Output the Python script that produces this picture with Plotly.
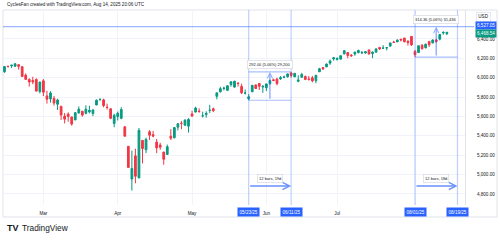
import plotly.graph_objects as go
import pandas as pd

HOLIDAYS = ["2025-02-17", "2025-04-18", "2025-05-26", "2025-06-19", "2025-07-04"]
DATES = pd.bdate_range("2025-02-13", "2025-08-14", freq="C", holidays=HOLIDAYS).strftime("%Y-%m-%d").tolist()

OPEN = [6060.6, 6115.5, 6121.6, 6117.8, 6134.5, 6114.1, 6026.7, 5982.7, 5970.9, 5981.9, 5856.7,
        5968.3, 5811.9, 5781.4, 5785.9, 5726.0, 5705.4, 5603.7, 5624.8, 5594.5, 5563.9, 5635.6,
        5654.5, 5632.4, 5646.9, 5630.7, 5718.1, 5775.9, 5771.7, 5695.6, 5679.1, 5527.9,
        5597.5, 5580.8, 5492.7, 5292.1, 4953.8, 5193.6, 4965.3, 5353.2, 5255.6, 5441.9, 5412.0,
        5335.8, 5305.5, 5232.9, 5207.7, 5395.9, 5381.4, 5489.7, 5529.2, 5508.9, 5499.4,
        5625.1, 5645.0, 5655.3, 5606.6, 5619.0, 5663.4, 5679.8, 5807.6, 5854.4, 5887.9, 5869.5,
        5929.1, 5902.9, 5944.7, 5910.5, 5841.3, 5781.9, 5854.1, 5925.5, 5939.9, 5903.7,
        5896.7, 5938.6, 5978.9, 5985.7, 5987.1, 6004.6, 6009.9, 6049.4, 6009.9, 5963.0, 6004.0,
        6012.2, 5987.9, 5999.7, 5969.7, 6061.2, 6104.2, 6112.1, 6150.7, 6193.4,
        6187.3, 6191.6, 6246.5, 6259.8, 6233.0, 6245.0, 6259.8, 6256.0, 6255.0, 6286.6, 6249.4,
        6263.3, 6313.1, 6304.7, 6306.6, 6326.9, 6368.6, 6370.0, 6397.7, 6409.3, 6374.3, 6427.0,
        6271.7, 6260.0, 6336.2, 6309.3, 6374.0, 6359.0, 6389.7, 6397.3, 6460.6, 6453.4]
HIGH = [6116.9, 6127.5, 6129.6, 6147.4, 6134.5, 6114.8, 6043.7, 5992.7, 6009.8, 5993.7, 5959.4,
        5986.1, 5865.1, 5860.6, 5812.1, 5783.0, 5705.4, 5636.3, 5642.2, 5597.8, 5645.3, 5703.5,
        5654.5, 5715.3, 5711.2, 5670.8, 5775.1, 5783.0, 5783.6, 5732.3, 5685.9, 5627.6,
        5650.6, 5695.3, 5499.5, 5292.1, 5246.6, 5267.5, 5481.3, 5353.2, 5381.5, 5459.5, 5450.4,
        5367.2, 5328.3, 5232.9, 5309.6, 5469.7, 5489.4, 5528.1, 5553.7, 5572.5, 5581.8,
        5658.9, 5700.7, 5683.4, 5649.6, 5653.5, 5720.1, 5691.0, 5844.2, 5906.6, 5906.9, 5924.0,
        5958.6, 5968.6, 5953.1, 5938.4, 5878.1, 5829.5, 5924.3, 5929.0, 5943.1, 5922.1,
        5937.4, 5981.4, 5990.5, 5999.7, 6016.9, 6021.3, 6043.0, 6059.4, 6045.4, 6026.2, 6050.8,
        6023.3, 6018.2, 6018.2, 6028.0, 6101.8, 6108.5, 6146.5, 6187.7, 6215.1,
        6210.8, 6227.6, 6284.7, 6262.7, 6242.7, 6269.5, 6290.2, 6275.9, 6272.8, 6288.3, 6273.1,
        6304.3, 6315.6, 6336.1, 6316.1, 6360.6, 6381.3, 6395.8, 6401.1, 6409.3, 6389.6, 6427.0,
        6287.3, 6330.0, 6346.8, 6352.8, 6380.0, 6395.2, 6400.6, 6446.6, 6480.3, 6473.5]
LOW = [6051.0, 6107.6, 6099.5, 6111.2, 6084.6, 6008.6, 5977.8, 5908.5, 5932.7, 5858.8, 5837.7,
       5810.9, 5732.6, 5742.4, 5711.6, 5666.3, 5564.0, 5528.4, 5546.1, 5504.7, 5563.9, 5631.1,
       5597.8, 5622.2, 5632.3, 5603.1, 5718.1, 5759.9, 5694.4, 5670.9, 5572.4, 5488.7,
       5558.5, 5571.5, 5390.8, 5069.9, 4835.0, 4910.4, 4965.3, 5115.3, 5220.8, 5358.0, 5386.4,
       5220.8, 5255.6, 5101.6, 5207.7, 5356.7, 5372.0, 5455.9, 5468.6, 5505.7, 5433.2,
       5597.3, 5644.2, 5640.0, 5589.1, 5586.7, 5635.6, 5644.8, 5777.5, 5846.5, 5868.8, 5865.2,
       5907.4, 5895.7, 5909.3, 5830.9, 5825.8, 5767.4, 5854.1, 5886.8, 5873.8, 5843.7,
       5861.4, 5929.0, 5966.1, 5921.2, 5978.6, 5994.2, 6000.3, 6002.3, 6003.9, 5952.6, 6004.0,
       5974.8, 5971.9, 5952.6, 5943.2, 6060.9, 6080.9, 6108.3, 6132.5, 6175.0,
       6178.0, 6188.3, 6240.0, 6201.0, 6217.7, 6226.6, 6251.4, 6245.0, 6247.7, 6243.4, 6201.3,
       6263.3, 6285.0, 6303.8, 6281.7, 6317.5, 6360.6, 6368.5, 6375.3, 6365.4, 6332.3, 6327.1,
       6212.7, 6260.0, 6289.4, 6301.9, 6317.3, 6356.2, 6360.1, 6385.8, 6445.0, 6441.1]
CLOSE = [6115.1, 6114.6, 6129.6, 6144.2, 6117.5, 6013.1, 5983.3, 5955.3, 5956.1, 5861.6, 5954.5,
         5849.7, 5778.2, 5842.6, 5738.5, 5770.2, 5614.6, 5572.1, 5599.3, 5521.5, 5638.9, 5675.1,
         5614.7, 5675.3, 5662.9, 5667.6, 5767.6, 5776.7, 5712.2, 5693.3, 5580.9, 5611.9,
         5633.1, 5671.0, 5396.5, 5074.1, 5062.3, 4982.8, 5456.9, 5268.1, 5363.4, 5406.0, 5396.6,
         5275.7, 5282.7, 5158.2, 5287.8, 5375.9, 5484.8, 5525.2, 5528.8, 5560.8, 5569.1,
         5604.1, 5686.7, 5650.4, 5606.9, 5631.3, 5663.9, 5659.9, 5844.2, 5886.6, 5892.6, 5916.9,
         5958.4, 5963.6, 5940.5, 5844.6, 5842.0, 5802.8, 5921.5, 5888.6, 5912.2, 5911.7,
         5935.9, 5970.4, 5970.8, 5939.3, 6000.4, 6005.9, 6038.8, 6022.2, 6045.3, 5977.0, 6033.1,
         5982.7, 5980.9, 5967.8, 6025.2, 6092.2, 6092.2, 6141.0, 6173.1, 6205.0,
         6198.0, 6227.4, 6279.4, 6230.0, 6225.5, 6263.3, 6280.5, 6259.8, 6268.6, 6243.8, 6263.7,
         6297.4, 6296.8, 6305.6, 6309.6, 6358.9, 6363.4, 6388.6, 6389.8, 6370.9, 6362.9, 6339.4,
         6238.0, 6329.9, 6299.2, 6345.1, 6340.0, 6389.5, 6373.5, 6445.8, 6466.6, 6468.5]

Y_TICKS = [4800, 5000, 5200, 5400, 5600, 5800, 6000, 6200, 6400]
MONTH_TICKS = ["2025-03-03", "2025-04-01", "2025-05-01", "2025-06-02", "2025-07-01", "2025-08-01"]
MONTH_LABELS = ["Mar", "Apr", "May", "Jun", "Jul", ""]

# measurement tools
R1_START, R1_END, R1_MID = "2025-05-23", "2025-06-11", "2025-06-03"
R1_LOW, R1_HIGH = 5767.41, 6059.40
R1_PRICE_TXT, R1_BARS_TXT = "292.00 (5.06%) 29,200", "12 bars, 19d"
R2_START, R2_END, R2_MID = "2025-08-01", "2025-08-19", "2025-08-11"
R2_LOW, R2_HIGH = 6212.69, 6527.05
R2_PRICE_TXT, R2_BARS_TXT = "314.36 (5.06%) 31,436", "12 bars, 18d"
ARROW_LEVEL = 4882
LAST_PRICE = 6468.54

UP, DOWN = "#089981", "#F23645"
BLUE = "#2962FF"
LINE_C = "rgba(41,98,255,0.3)"
TXT = "#131722"
FONT = "Liberation Sans"

fig = go.Figure(go.Candlestick(
    x=DATES, open=OPEN, high=HIGH, low=LOW, close=CLOSE,
    increasing=dict(line=dict(color=UP, width=1), fillcolor=UP),
    decreasing=dict(line=dict(color=DOWN, width=1), fillcolor=DOWN),
    showlegend=False, hoverinfo="skip"))

shapes = []
for d in [R1_START, R1_END, R2_START, R2_END]:
    shapes.append(dict(type="line", xref="x", yref="paper", x0=d, x1=d, y0=0, y1=1,
                       line=dict(color=LINE_C, width=1.2)))
for (a, b, v) in [(R1_START, R1_END, R1_LOW), (R1_START, R1_END, R1_HIGH), (R2_START, R2_END, R2_LOW)]:
    shapes.append(dict(type="line", xref="x", yref="y", x0=a, x1=b, y0=v, y1=v,
                       line=dict(color="rgba(41,98,255,0.4)", width=1.2)))
shapes.append(dict(type="line", xref="paper", yref="y", x0=0, x1=1.02, y0=R2_HIGH, y1=R2_HIGH,
                   line=dict(color="rgba(41,98,255,0.45)", width=1.1)))
# chart frame
shapes.append(dict(type="rect", xref="paper", yref="paper", x0=0, x1=1.0693, y0=-0.0615, y1=1,
                   line=dict(color="#E0E3EB", width=1), layer="below"))

ann = []
ann.append(dict(xref="paper", yref="paper", x=0.004, y=1.027, xanchor="left", yanchor="middle",
                text="CyclesFan created with TradingView.com, Aug 14, 2025 20:06 UTC",
                showarrow=False, font=dict(size=4.6, color=TXT, family=FONT)))
ann.append(dict(xref="paper", yref="paper", x=0.004, y=-0.118, xanchor="left", yanchor="middle",
                text="<b>TV</b>", showarrow=False, font=dict(size=9, color=TXT, family=FONT)))
ann.append(dict(xref="paper", yref="paper", x=0.037, y=-0.118, xanchor="left", yanchor="middle",
                text="TradingView", showarrow=False, font=dict(size=8.3, color=TXT, family=FONT)))
ann.append(dict(xref="paper", yref="paper", x=1.039, y=0.964, xanchor="center", yanchor="middle",
                text="USD", showarrow=False, font=dict(size=4.6, color=TXT, family=FONT),
                bordercolor="#E0E3EB", borderwidth=0.8, borderpad=1.5, bgcolor="white"))
# price axis labels
ann.append(dict(xref="paper", yref="y", x=1.0216, y=R2_HIGH, xanchor="left", yanchor="middle",
                text=f"{R2_HIGH:,.2f}", showarrow=False, font=dict(size=4.6, color="white", family=FONT),
                bgcolor=BLUE, borderpad=1, yshift=1))
ann.append(dict(xref="paper", yref="y", x=1.0216, y=LAST_PRICE, xanchor="left", yanchor="middle",
                text=f"{LAST_PRICE:,.2f}", showarrow=False, font=dict(size=4.6, color="white", family=FONT),
                bgcolor=UP, borderpad=1, yshift=-1))
# date labels on time axis
for d in [R1_START, R1_END, R2_START, R2_END]:
    mm, dd = d[5:7], d[8:10]
    ann.append(dict(xref="x", yref="paper", x=d, y=-0.036, xanchor="center", yanchor="middle",
                    text=f"{mm}/{dd}/25", showarrow=False, font=dict(size=4.6, color="white", family=FONT),
                    bgcolor=BLUE, borderpad=1.5))
# price range arrows and labels
for (mid, lo, hi, txt) in [(R1_MID, R1_LOW, R1_HIGH, R1_PRICE_TXT), (R2_MID, R2_LOW, R2_HIGH, R2_PRICE_TXT)]:
    ann.append(dict(xref="x", yref="y", x=mid, y=hi, axref="x", ayref="y", ax=mid, ay=lo,
                    text="", showarrow=True, arrowhead=5, arrowsize=0.8, arrowwidth=1.3,
                    arrowcolor="rgba(41,98,255,0.55)", standoff=0))
    ann.append(dict(xref="x", yref="y", x=mid, y=hi, xanchor="center", yanchor="bottom", yshift=3,
                    text=txt, showarrow=False, font=dict(size=4, color=TXT, family=FONT),
                    bgcolor="white", bordercolor="#D1D4DC", borderwidth=0.6, borderpad=1.5))
# date range arrows and labels
for (a, b, mid, txt) in [(R1_START, R1_END, R1_MID, R1_BARS_TXT), (R2_START, R2_END, R2_MID, R2_BARS_TXT)]:
    ann.append(dict(xref="x", yref="y", x=b, y=ARROW_LEVEL, axref="x", ayref="y", ax=a, ay=ARROW_LEVEL,
                    text="", showarrow=True, arrowhead=5, arrowsize=1.0, arrowwidth=1.4,
                    arrowcolor="rgba(41,98,255,0.7)", standoff=0))
    ann.append(dict(xref="x", yref="y", x=mid, y=ARROW_LEVEL, xanchor="center", yanchor="bottom", yshift=3,
                    text=txt, showarrow=False, font=dict(size=4, color=TXT, family=FONT),
                    bgcolor="white", bordercolor="#D1D4DC", borderwidth=0.6, borderpad=1.5))

fig.update_layout(
    width=500, height=241, margin=dict(l=3, r=35, t=10, b=36),
    paper_bgcolor="white", plot_bgcolor="white",
    shapes=shapes, annotations=ann, showlegend=False,
    xaxis=dict(type="date", range=["2025-02-12 14:00", "2025-08-21 03:00"],
               rangeslider=dict(visible=False),
               rangebreaks=[dict(bounds=["sat", "mon"]), dict(values=HOLIDAYS)],
               tickmode="array", tickvals=MONTH_TICKS, ticktext=MONTH_LABELS,
               showgrid=True, gridcolor="#F0F3FA", gridwidth=1, zeroline=False,
               ticks="", ticklabelstandoff=4,
               tickfont=dict(size=4.6, color=TXT, family=FONT), showline=False),
    yaxis=dict(side="right", range=[4686, 6699], tickmode="array", tickvals=Y_TICKS,
               tickformat=",.2f", showgrid=True, gridcolor="#F0F3FA", gridwidth=1,
               zeroline=False, ticks="", ticklabelstandoff=10,
               tickfont=dict(size=4.6, color=TXT, family=FONT),
               showline=True, linecolor="#E0E3EB", linewidth=1),
)

fig.write_html("out.html")
